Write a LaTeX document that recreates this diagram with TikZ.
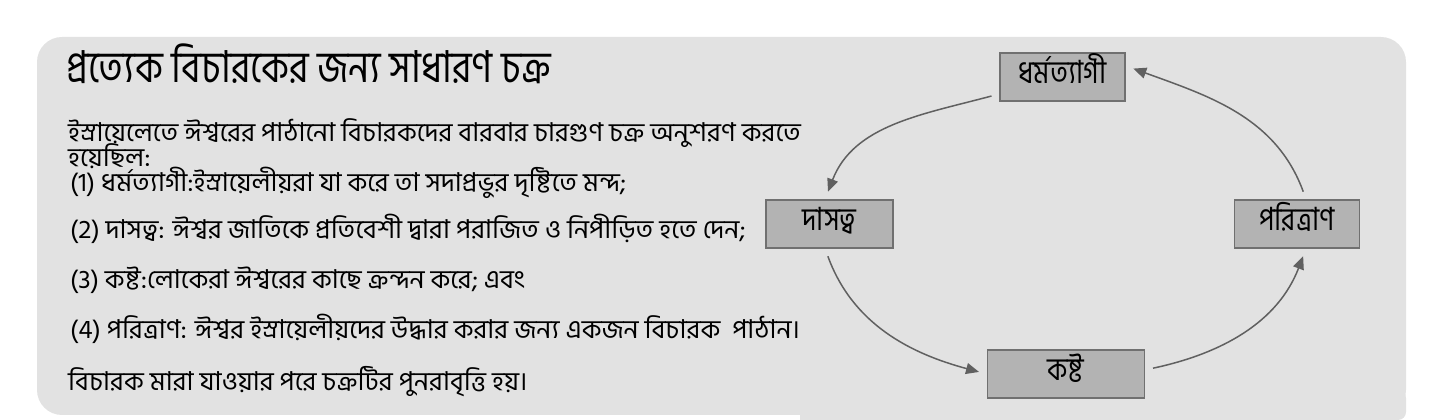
\documentclass[tikz,border=0pt]{standalone}
\usepackage{fontspec}
\setmainfont{Hind Siliguri}[Script=Bengali, FakeStretch=0.85]
\newfontfamily\bodyfont{Hind Siliguri}[Script=Bengali, FakeStretch=1.02]
\usetikzlibrary{arrows.meta}
\definecolor{panelgray}{RGB}{226,226,226}
\definecolor{boxgray}{RGB}{179,179,179}
\definecolor{boxline}{RGB}{112,112,112}
\definecolor{arrowgray}{RGB}{96,96,96}

\begin{document}
\begin{tikzpicture}[x=1pt,y=1pt,
  stage/.style={draw=boxline, line width=1.5pt, fill=boxgray, minimum height=48pt,
    inner sep=0pt, text height=18pt, text depth=5pt, font=\fontsize{32}{34}\selectfont},
  cyc/.style={-{Triangle[length=13pt,width=11pt]}, draw=arrowgray, line width=1.5pt,
    shorten >=8pt, shorten <=8pt},
  txt/.style={anchor=base west, inner sep=0pt, font=\bodyfont\fontsize{26}{28}\selectfont}]
  \useasboundingbox (0,0) rectangle (1444,420);

  % grey panel
  \fill[panelgray, rounded corners=25pt] (37,5) rectangle (1406,383);
  \fill[panelgray] (800,30) -- (800,0) [rounded corners=8pt] -- (1406,0) -- (1406,30) -- cycle;

  % left text
  \node[txt, font=\fontsize{44}{48}\selectfont] (title) at (66,337) {প্রত্যেক বিচারকের জন্য সাধারণ চক্র};
  \node[txt] (intro1) at (68,278) {ইস্রায়েলেতে ঈশ্বরের পাঠানো বিচারকদের বারবার চারগুণ চক্র অনুশরণ করতে};
  \node[txt] (intro2) at (68,253) {হয়েছিল:};
  \node[txt] (item1) at (70,228) {(1) ধর্মত্যাগী:ইস্রায়েলীয়রা যা করে তা সদাপ্রভুর দৃষ্টিতে মন্দ;};
  \node[txt] (item2) at (70,181) {(2) দাসত্ব: ঈশ্বর জাতিকে প্রতিবেশী দ্বারা পরাজিত ও নিপীড়িত হতে দেন;};
  \node[txt] (item3) at (70,131) {(3) কষ্ট:লোকেরা ঈশ্বরের কাছে ক্রন্দন করে; এবং};
  \node[txt] (item4) at (70,81) {(4) পরিত্রাণ: ঈশ্বর ইস্রায়েলীয়দের উদ্ধার করার জন্য একজন বিচারক~ পাঠান।};
  \node[txt] (outro) at (68,29) {বিচারক মারা যাওয়ার পরে চক্রটির পুনরাবৃত্তি হয়।};

  % cycle
  \node[stage, minimum width=125pt] (apo) at (1062.5,343) {ধর্মত্যাগী};
  \node[stage, minimum width=127pt] (bond) at (829.5,196) {দাসত্ব};
  \node[stage, minimum width=125pt] (deliv) at (1297,196) {পরিত্রাণ};
  \node[stage, minimum width=157pt] (suff) at (1066,46) {কষ্ট};

  \draw[cyc] (apo.195) to[out=195, in=69] (bond.100);
  \draw[cyc] (bond.260) to[out=-70, in=165] (suff.west);
  \draw[cyc] (suff.3) to[out=12, in=-111] (deliv.-70);
  \draw[cyc] (deliv.70) to[out=110, in=-20] (apo.10);
\end{tikzpicture}
\end{document}
